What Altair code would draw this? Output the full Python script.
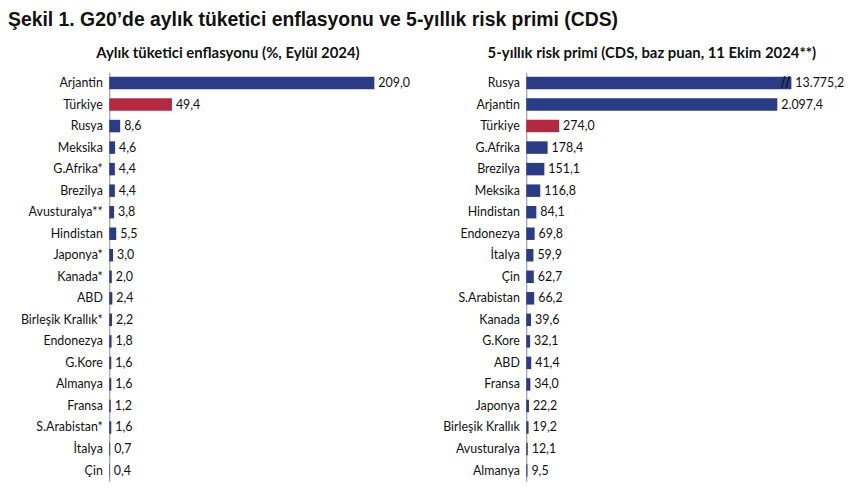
import altair as alt
import pandas as pd

inf_countries = ["Arjantin", "Türkiye", "Rusya", "Meksika", "G.Afrika*", "Brezilya",
                 "Avusturalya**", "Hindistan", "Japonya*", "Kanada*", "ABD",
                 "Birleşik Krallık*", "Endonezya", "G.Kore", "Almanya", "Fransa",
                 "S.Arabistan*", "İtalya", "Çin"]
inf_values = [209.0, 49.4, 8.6, 4.6, 4.4, 4.4, 3.8, 5.5, 3.0, 2.0, 2.4, 2.2, 1.8,
              1.6, 1.6, 1.2, 1.6, 0.7, 0.4]

cds_countries = ["Rusya", "Arjantin", "Türkiye", "G.Afrika", "Brezilya", "Meksika",
                 "Hindistan", "Endonezya", "İtalya", "Çin", "S.Arabistan", "Kanada",
                 "G.Kore", "ABD", "Fransa", "Japonya", "Birleşik  Krallık",
                 "Avusturalya", "Almanya"]
cds_values = [13775.2, 2097.4, 274.0, 178.4, 151.1, 116.8, 84.1, 69.8, 59.9, 62.7,
              66.2, 39.6, 32.1, 41.4, 34.0, 22.2, 19.2, 12.1, 9.5]
cds_axis_max = 2215  # axis is broken: Rusya bar is cut at this value

NAVY = "#2B3C84"
RED = "#B42942"
FONT = "Lato"


def tr_fmt(v):
    s = f"{v:,.1f}"
    return s.replace(",", "X").replace(".", ",").replace("X", ".")


def make_df(countries, values):
    return pd.DataFrame({
        "country": countries,
        "value": values,
        "label": [tr_fmt(v) for v in values],
        "hl": ["Türkiye" if c == "Türkiye" else "other" for c in countries],
    })


df_inf = make_df(inf_countries, inf_values)
df_cds = make_df(cds_countries, cds_values)
df_cds["brk"] = ["//" if v > cds_axis_max else "" for v in cds_values]

color = alt.Color("hl:N", scale=alt.Scale(domain=["Türkiye", "other"], range=[RED, NAVY]),
                  legend=None)


def panel(df, order, title, xscale, extent, title_dx, extra=None):
    y = alt.Y("country:N", sort=order, title=None,
              scale=alt.Scale(paddingInner=0.42, paddingOuter=0.21),
              axis=alt.Axis(ticks=False, labelPadding=7, labelFontSize=12.5,
                            labelFont=FONT, labelColor="#111", domainColor="#8a8a8a",
                            labelLimit=200, minExtent=extent, maxExtent=extent))
    x = alt.X("value:Q", scale=xscale, axis=None)
    base = alt.Chart(df)
    bars = base.mark_bar().encode(y=y, x=x, color=color)
    text = base.mark_text(align="left", dx=4, fontSize=12.5, font=FONT, color="#111").encode(
        y=y, x=x, text="label:N")
    layers = [bars, text]
    if extra is not None:
        layers.append(base.mark_text(align="center", dx=-6, fontSize=16, font="Liberation Sans",
                                     color="#111", fontWeight="normal").encode(
            y=y, x=x, text="brk:N"))
    return alt.layer(*layers).properties(
        width=267, height=412,
        title=alt.TitleParams(title, fontSize=15, font=FONT, fontWeight="bold",
                              color="#111", anchor="middle", offset=11, dx=title_dx))


left = panel(df_inf, inf_countries, "Aylık tüketici enflasyonu (%, Eylül 2024)",
             alt.Scale(domain=[0, 209], nice=False, zero=True), 102, -14)
right = panel(df_cds, cds_countries, "5-yıllık risk primi (CDS, baz puan, 11 Ekim 2024**)",
              alt.Scale(domain=[0, cds_axis_max], nice=False, zero=True, clamp=True),
              92, -7, extra=True)

chart = alt.hconcat(left, right, spacing=25).properties(
    title=alt.TitleParams("Şekil 1. G20’de aylık tüketici enflasyonu ve 5-yıllık risk primi (CDS)",
                          fontSize=19.5, font="Liberation Sans", fontWeight="bold",
                          color="#111", anchor="start", offset=16),
    padding={"left": 0, "top": 0, "right": 0, "bottom": 0},
).configure_view(stroke=None).configure_concat(spacing=25)

chart.save("out.html", embed_options={"renderer": "svg", "actions": False})
